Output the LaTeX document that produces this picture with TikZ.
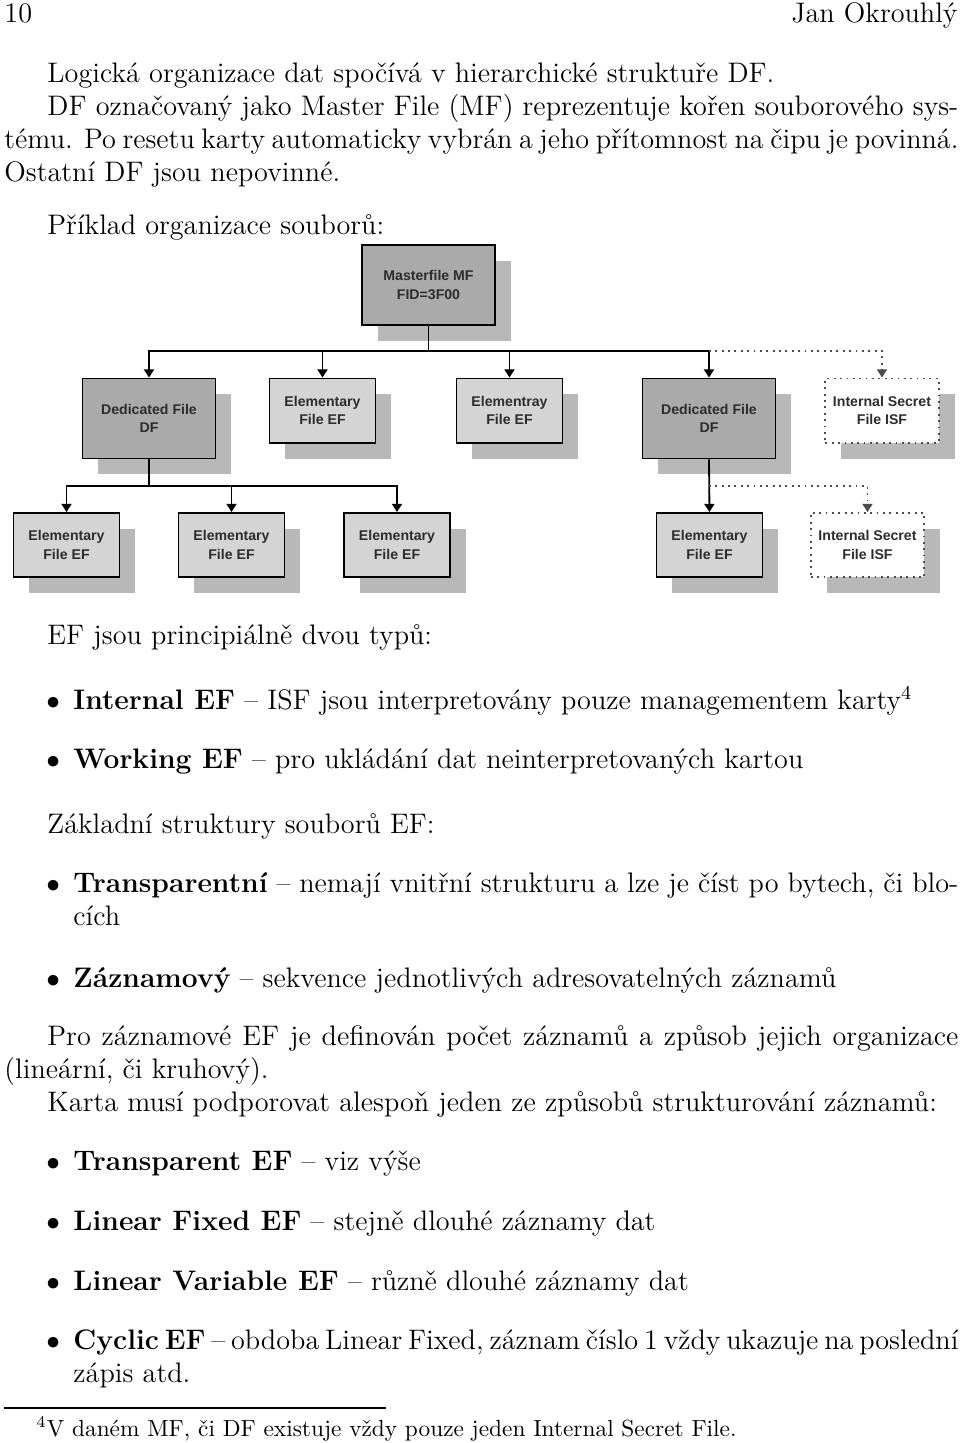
\documentclass[tikz,border=0pt]{standalone}
\usepackage{fontspec}
\newfontfamily\diafont{Liberation Sans}
\usepackage{tikz}
\usetikzlibrary{arrows.meta,shadows}
\definecolor{boxdark}{RGB}{170,170,170}
\definecolor{boxlight}{RGB}{212,212,212}
\definecolor{boxshade}{RGB}{184,184,184}
\definecolor{boxtext}{RGB}{45,45,45}
\newdimen\pxu \pxu=0.4394pt

\tikzset{
  filebox/.style={draw=black,line width=0.8pt,align=center,text=boxtext,
    font=\diafont\bfseries\fontsize{6.2}{8}\selectfont,
    drop shadow={shadow xshift=7pt,shadow yshift=-7pt,fill=boxshade,opacity=1}},
  dfbox/.style={filebox,fill=boxdark,minimum width=58.4pt,minimum height=35.2pt},
  efbox/.style={filebox,fill=boxlight,minimum width=46.6pt,minimum height=28.2pt},
  isfbox/.style={filebox,fill=white,draw=black!70,dotted,minimum width=47pt,minimum height=28.2pt},
  link/.style={line width=0.8pt,-{Triangle[width=4.4pt,length=3.6pt]}},
  dotlink/.style={line width=0.8pt,dotted,black!70,-{Triangle[width=4.4pt,length=3.6pt]}},
  txt/.style={anchor=base west,inner sep=0pt,font=\fontsize{12.4}{15}\selectfont},
  fntxt/.style={anchor=base west,inner sep=0pt,font=\fontsize{10.25}{12}\selectfont},
}

\begin{document}
\begin{tikzpicture}[x=\pxu,y=-\pxu]
\useasboundingbox (0,0) rectangle (960,1443);
\fill[white] (0,0) rectangle (960,1443);
%Header
\node[txt] (pgno) at (4,22) {10};
\node[txt,anchor=base east] (author) at (958,22) {Jan Okrouhlý};
%Text above the figure
\node[txt] (p1) at (47,82) {Logická organizace dat spočívá v hierarchické struktuře DF.};
\node[txt] (p2) at (47,115) {\makebox[911\pxu][s]{DF označovaný jako Master File (MF) reprezentuje kořen souborového sys-}};
\node[txt] (p3) at (4,148) {\makebox[954\pxu][s]{tému. Po resetu karty automaticky vybrán a jeho přítomnost na čipu je povinná.}};
\node[txt] (p4) at (4,181) {Ostatní DF jsou nepovinné.};
\node[txt] (p5) at (47,234) {Příklad organizace souborů:};

%Files
\node[dfbox] (mf) at (428.5,285) {Masterfile MF\\FID=3F00};
\node[dfbox] (df1) at (149,418.5) {Dedicated File\\DF};
\node[efbox] (ef1) at (322.5,410.5) {Elementary\\File EF};
\node[efbox] (ef2) at (509.5,410.5) {Elementray\\File EF};
\node[dfbox] (df2) at (709,418.5) {Dedicated File\\DF};
\node[isfbox] (isf1) at (882,410.5) {Internal Secret\\File ISF};
\node[efbox] (ef3) at (66.5,545) {Elementary\\File EF};
\node[efbox] (ef4) at (231.5,545) {Elementary\\File EF};
\node[efbox] (ef5) at (397,545) {Elementary\\File EF};
\node[efbox] (ef6) at (709.5,545) {Elementary\\File EF};
\node[isfbox] (isf2) at (867.5,545) {Internal Secret\\File ISF};

%Links
\coordinate (busA) at (0,351);
\coordinate (busB) at (0,486);
\foreach \f in {df1,ef1,ef2,df2}
  \draw[link] (mf.south) -- (mf.south |- busA) -| (\f.north);
\draw[dotlink] (df2.north |- busA) -| (isf1.north);
\foreach \f in {ef3,ef4,ef5}
  \draw[link] (df1.south) -- (df1.south |- busB) -| (\f.north);
\draw[link] (df2.south) -- (ef6.north);
\draw[dotlink] (df2.south |- busB) -| (isf2.north);

%Text below the figure
\node[txt] (p6) at (47,644) {EF jsou principiálně dvou typů:};
\node[txt] (b1) at (46,709) {$\bullet$};
\node[txt] (i1) at (73,709) {\textbf{Internal EF} -- ISF jsou interpretovány pouze managementem karty\textsuperscript{4}};
\node[txt] (b2) at (46,768) {$\bullet$};
\node[txt] (i2) at (73,768) {\textbf{Working EF} -- pro ukládání dat neinterpretovaných kartou};
\node[txt] (p7) at (47,833) {Základní struktury souborů EF:};
\node[txt] (b3) at (46,892) {$\bullet$};
\node[txt] (i3) at (73,892) {\makebox[885\pxu][s]{\textbf{Transparentní} -- nemají vnitřní strukturu a lze je číst po bytech, či blo-}};
\node[txt] (i3b) at (73,925) {cích};
\node[txt] (b4) at (46,987) {$\bullet$};
\node[txt] (i4) at (73,987) {\textbf{Záznamový} -- sekvence jednotlivých adresovatelných záznamů};
\node[txt] (p8) at (47,1045) {\makebox[911\pxu][s]{Pro záznamové EF je definován počet záznamů a způsob jejich organizace}};
\node[txt] (p9) at (4,1078) {(lineární, či kruhový).};
\node[txt] (p10) at (47,1111) {Karta musí podporovat alespoň jeden ze způsobů strukturování záznamů:};
\node[txt] (b5) at (46,1170) {$\bullet$};
\node[txt] (i5) at (73,1170) {\textbf{Transparent EF} -- viz výše};
\node[txt] (b6) at (46,1230) {$\bullet$};
\node[txt] (i6) at (73,1230) {\textbf{Linear Fixed EF} -- stejně dlouhé záznamy dat};
\node[txt] (b7) at (46,1290) {$\bullet$};
\node[txt] (i7) at (73,1290) {\textbf{Linear Variable EF} -- různě dlouhé záznamy dat};
\node[txt] (b8) at (46,1349) {$\bullet$};
\node[txt] (i8) at (73,1349) {\makebox[885\pxu][s]{\spaceskip=0.2em plus 1em\relax\textbf{Cyclic EF} -- obdoba Linear Fixed, záznam číslo 1 vždy ukazuje na poslední}};
\node[txt] (i8b) at (73,1382) {zápis atd.};

%Footnote
\coordinate (fnl) at (4,1408);
\coordinate (fnr) at (386,1408);
\draw[line width=0.6pt] (fnl) -- (fnr);
\node[fntxt] (fn) at (36,1436) {\textsuperscript{4}V daném MF, či DF existuje vždy pouze jeden Internal Secret File.};
\end{tikzpicture}
\end{document}
